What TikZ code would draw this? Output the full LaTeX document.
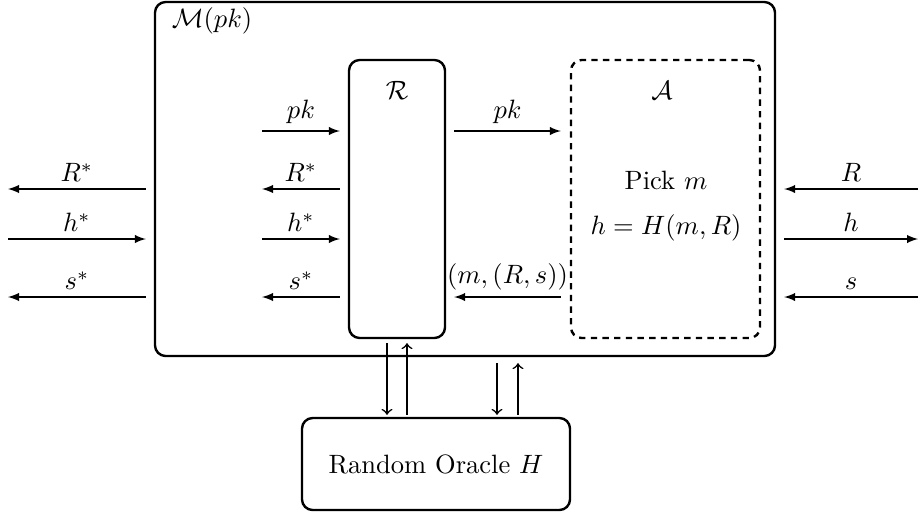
\documentclass[tikz,border=0pt]{standalone}
\usetikzlibrary{calc}
\begin{document}
\begin{tikzpicture}[x=0.377pt,y=-0.377pt,
  box/.style={draw,line width=0.9pt,rounded corners=4pt,inner sep=0pt},
  dbox/.style={box,dashed,dash pattern=on 2.4pt off 2pt},
  msg/.style={line width=0.45pt,-latex},
  vmsg/.style={line width=0.6pt,->},
  lab/.style={above,inner sep=2.5pt}]
\useasboundingbox (0,0) rectangle (920,515);
\node[box,minimum width={620*0.377pt},minimum height={354*0.377pt}] (M) at (465,179) {};
\node[box,minimum width={96*0.377pt},minimum height={278*0.377pt}] (R) at (397,199) {};
\node[dbox,minimum width={189*0.377pt},minimum height={278*0.377pt}] (A) at (665.5,199) {};
\node[box,minimum width={268*0.377pt},minimum height={92*0.377pt}] (O) at (436,464) {Random Oracle $H$};
\node (Mlab) at (212,21) {$\mathcal{M}(pk)$};
\node (Rlab) at (397,90) {$\mathcal{R}$};
\node (Alab) at (662,90) {$\mathcal{A}$};
\node (Apick) at (666,180) {Pick $m$};
\node (Ah) at (666,228) {$h=H(m,R)$};
% outer left
\coordinate (oL) at (8,0);
\coordinate (oR) at (918,0);
\coordinate (iL) at (262,0);
\draw[msg] ($(M.west|-0,189)+(-8,0)$) -- (oL|-0,189) node[lab,midway] (l1) {$R^*$};
\draw[msg] (oL|-0,239) -- ($(M.west|-0,239)+(-8,0)$) node[lab,midway] (l2) {$h^*$};
\draw[msg] ($(M.west|-0,297)+(-8,0)$) -- (oL|-0,297) node[lab,midway] (l3) {$s^*$};
% inner left
\draw[msg] (iL|-0,131) -- ($(R.west|-0,131)+(-8,0)$) node[lab,midway] (l4) {$pk$};
\draw[msg] ($(R.west|-0,189)+(-8,0)$) -- (iL|-0,189) node[lab,midway] (l5) {$R^*$};
\draw[msg] (iL|-0,239) -- ($(R.west|-0,239)+(-8,0)$) node[lab,midway] (l6) {$h^*$};
\draw[msg] ($(R.west|-0,297)+(-8,0)$) -- (iL|-0,297) node[lab,midway] (l7) {$s^*$};
% R to A
\draw[msg] ($(R.east|-0,131)+(8,0)$) -- ($(A.west|-0,131)+(-9,0)$) node[lab,midway] (l8) {$pk$};
\draw[msg] ($(A.west|-0,297)+(-9,0)$) -- ($(R.east|-0,297)+(8,0)$) node[lab,midway] (l9) {$(m,(R,s))$};
% outer right
\draw[msg] (oR|-0,189) -- ($(M.east|-0,189)+(8,0)$) node[lab,midway] (l10) {$R$};
\draw[msg] ($(M.east|-0,239)+(8,0)$) -- (oR|-0,239) node[lab,midway] (l11) {$h$};
\draw[msg] (oR|-0,297) -- ($(M.east|-0,297)+(8,0)$) node[lab,midway] (l12) {$s$};
% oracle arrows
\draw[vmsg] ($(R.south)+(-10,4)$) -- ($(O.north-|387,0)+(0,-2)$);
\draw[vmsg] ($(O.north-|407,0)+(0,-2)$) -- ($(R.south)+(10,4)$);
\draw[vmsg] ($(M.south-|497,0)+(0,6)$) -- ($(O.north-|497,0)+(0,-2)$);
\draw[vmsg] ($(O.north-|518,0)+(0,-2)$) -- ($(M.south-|518,0)+(0,6)$);
\end{tikzpicture}
\end{document}
